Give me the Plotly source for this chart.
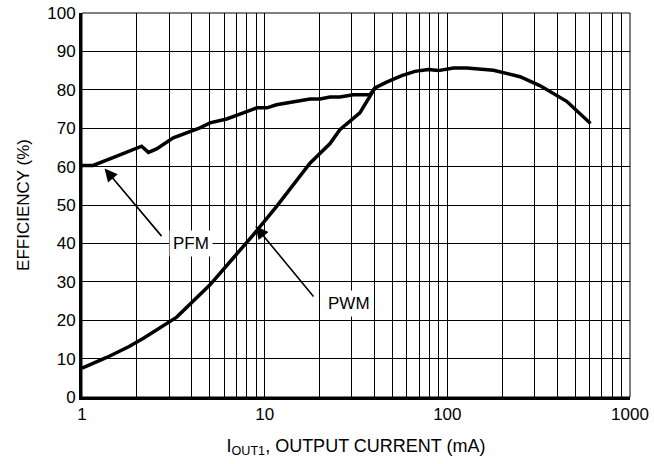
import math
import plotly.graph_objects as go

# PFM efficiency curve
pfm_x = [1.0, 1.15, 1.55, 1.8, 2.12, 2.31, 2.56, 3.16, 4.42, 5.02, 6.19, 7.64, 9.04, 10.3,
         11.6, 17.7, 20.1, 22.8, 25.8, 30.6, 37.7, 40.2]
pfm_y = [60.3, 60.3, 62.7, 64.0, 65.3, 63.7, 64.6, 67.5, 70.1, 71.4, 72.4, 74.0, 75.3, 75.3,
         76.1, 77.6, 77.6, 78.1, 78.1, 78.7, 78.7, 80.5]

# PWM efficiency curve
pwm_x = [1.0, 1.365, 1.8, 2.17, 3.3, 5.02, 6.73, 8.66, 11.6, 17.7, 22.8, 25.8, 33.2, 40.2,
         46.5, 56.3, 66.5, 78.7, 89.3, 108, 128, 179, 250, 321, 450, 608]
pwm_y = [7.5, 10.3, 13.1, 15.3, 20.8, 29.2, 36.2, 42.2, 49.6, 60.9, 66.0, 69.6, 74.0, 80.5,
         82.0, 83.7, 84.8, 85.3, 85.0, 85.7, 85.7, 85.1, 83.4, 81.1, 77.0, 71.2]

y_ticks = [0, 10, 20, 30, 40, 50, 60, 70, 80, 90, 100]
x_grid = [m * d for d in (1, 10, 100) for m in range(1, 10)] + [1000]
x_labels = {1: "1", 10: "10", 100: "100", 1000: "1000"}
x_text = [x_labels.get(v, "") for v in x_grid]

# annotation labels: (text x, text y, arrow tail x, tail y, tip x, tip y)
labels = {
    "PFM": (3.95, 39.9, 2.77, 41.5, 1.33, 59.5),
    "PWM": (28.9, 24.3, 18.8, 25.8, 8.9, 44.5),
}

FONT = "Liberation Sans, Arial, Helvetica, sans-serif"

fig = go.Figure()
fig.add_trace(go.Scatter(x=pfm_x, y=pfm_y, mode="lines",
                         line=dict(color="black", width=3.5), hoverinfo="skip"))
fig.add_trace(go.Scatter(x=pwm_x, y=pwm_y, mode="lines",
                         line=dict(color="black", width=3.5), hoverinfo="skip"))

for name, (tx, ty, ax, ay, px, py) in labels.items():
    fig.add_annotation(x=math.log10(px), y=py, ax=math.log10(ax), ay=ay,
                       xref="x", yref="y", axref="x", ayref="y",
                       text="", showarrow=True, arrowhead=2, arrowsize=1.6, arrowwidth=1.6,
                       arrowcolor="black")
    fig.add_annotation(x=math.log10(tx), y=ty, xref="x", yref="y", text=name, showarrow=False,
                       font=dict(family=FONT, size=17, color="black"),
                       bgcolor="white", borderpad=3)

fig.add_shape(type="rect", xref="paper", yref="paper", x0=0, y0=0, x1=1, y1=1,
              line=dict(color="black", width=1), layer="above")

fig.update_layout(
    width=654, height=464,
    margin=dict(l=82, r=24, t=13, b=67),
    paper_bgcolor="white", plot_bgcolor="white",
    showlegend=False,
    font=dict(family=FONT, size=17, color="black"),
)
fig.update_xaxes(
    type="log", range=[0, 3], automargin=False,
    tickmode="array", tickvals=x_grid, ticktext=x_text,
    tickfont=dict(family=FONT, size=17),
    showgrid=True, gridcolor="black", gridwidth=1,
    showline=True, linecolor="black", linewidth=3,
    ticks="", zeroline=False,
    title=dict(text="I<sub>OUT1</sub>, OUTPUT CURRENT (mA)", standoff=16,
               font=dict(family=FONT, size=18)),
)
fig.update_yaxes(
    range=[0, 100], tickmode="array", tickvals=y_ticks, automargin=False,
    tickfont=dict(family=FONT, size=17),
    showgrid=True, gridcolor="black", gridwidth=1,
    showline=True, linecolor="black", linewidth=3,
    ticks="", zeroline=False,
    title=dict(text="EFFICIENCY (%)", standoff=14, font=dict(family=FONT, size=17)),
)

fig.write_html(
    "out.html",
    config={"displayModeBar": False},
    post_script="document.body.style.margin='0';document.body.style.overflow='hidden';",
)
